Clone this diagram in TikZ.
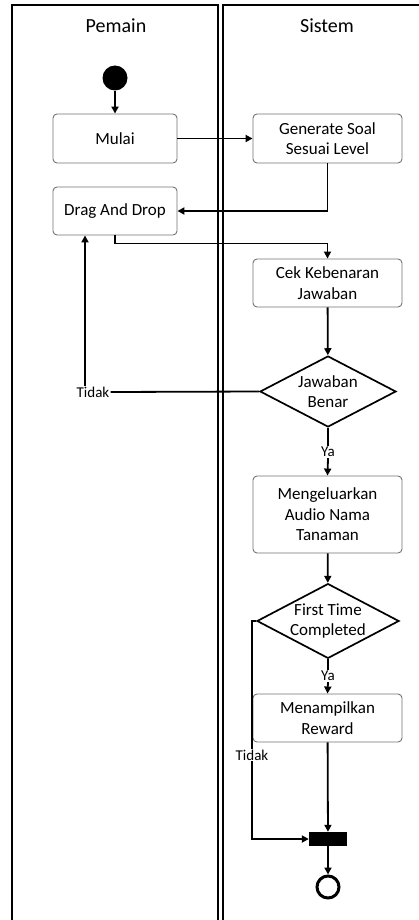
\documentclass[tikz,border=0pt]{standalone}
\usepackage{fontspec}
\setmainfont{Carlito}
\usetikzlibrary{shapes.geometric,arrows.meta}
\begin{document}
\begin{tikzpicture}[x=1pt,y=-1pt,
  lane/.style={draw=black,line width=2pt},
  act/.style={draw=black!55,line width=0.9pt,rounded corners=4pt,fill=white,
    minimum width=149pt,align=center,inner sep=2pt,font=\fontsize{17}{20.5}\selectfont},
  actsmall/.style={act,minimum width=124pt},
  decide/.style={draw=black,line width=1.7pt,diamond,aspect=1.9,minimum width=136pt,minimum height=71pt,
    inner sep=0pt,align=center,font=\fontsize{17}{20.5}\selectfont},
  flow/.style={draw=black,line width=1.8pt,-{Triangle[length=7pt,width=7pt]}},
  link/.style={draw=black,line width=1.8pt},
  lbl/.style={font=\fontsize{15}{18}\selectfont,inner sep=1pt,fill=white},
  head/.style={font=\fontsize{20}{24}\selectfont}]
\useasboundingbox (0,0) rectangle (419,920);
\clip (0,0) rectangle (419,920);
% swimlanes
\draw[lane] (12,930) -- (12,5) -- (218,5) -- (218,930);
\draw[lane] (223,930) -- (223,5) -- (430,5);
\node[head] (pemain) at (116,26) {Pemain};
\node[head] (sistem) at (327,26) {Sistem};
% start
\node[circle,fill=black,minimum size=25pt,inner sep=0pt] (start) at (115,78) {};
% activities
\node[actsmall,minimum height=49pt] (mulai) at (115,138.5) {Mulai};
\node[act,minimum height=49pt] (gen) at (327.5,138.5) {Generate Soal\\Sesuai Level};
\node[actsmall,minimum height=48pt] (drag) at (115,211) {Drag And Drop};
\node[act,minimum height=48pt] (cek) at (327.5,283) {Cek Kebenaran\\Jawaban};
\node[decide] (jb) at (328,391.5) {Jawaban\\Benar};
\node[act,minimum height=77pt] (audio) at (327.5,514.5) {Mengeluarkan\\Audio Nama\\Tanaman};
\node[decide] (ft) at (328,621) {First Time\\Completed};
\node[act,minimum height=48pt] (reward) at (327.5,718) {Menampilkan\\Reward};
\node[fill=black,minimum width=38pt,minimum height=14pt,inner sep=0pt] (bar) at (328,839) {};
\node[circle,draw=black,line width=3pt,minimum size=22pt,inner sep=0pt] (stop) at (328,887) {};
% labels
\node[lbl] (tidak1) at (93,392) {Tidak};
\node[lbl] (ya1) at (328,452) {Ya};
\node[lbl] (ya2) at (328,676) {Ya};
\coordinate (turn2) at (252,621);
\coordinate (turn3) at (252,839);
% connectors
\draw[flow] (start) -- (mulai);
\draw[flow] (mulai) -- (gen);
\draw[flow] (gen.south) |- (drag.east);
\draw[flow] (drag.south) -- ++(0,8) -| (cek.north);
\draw[flow] (cek) -- (jb);
\draw[link] (jb.west) -- (tidak1.east);
\draw[flow] (tidak1.north -| 85,0) -- (drag.south -| 85,0);
\draw[link] (jb.south) -- (ya1.north);
\draw[flow] (ya1.south) -- (audio.north);
\draw[flow] (audio) -- (ft);
\draw[link] (ft.south) -- (ya2.north);
\draw[flow] (ya2.south) -- (reward.north);
\draw[flow] (ft.west) -- (turn2) -- (turn3) -- (bar.west);
\node[lbl] (tidak2) at (252,755) {Tidak};
\draw[flow] (reward) -- (bar);
\draw[flow] (bar) -- (stop);
\end{tikzpicture}
\end{document}
